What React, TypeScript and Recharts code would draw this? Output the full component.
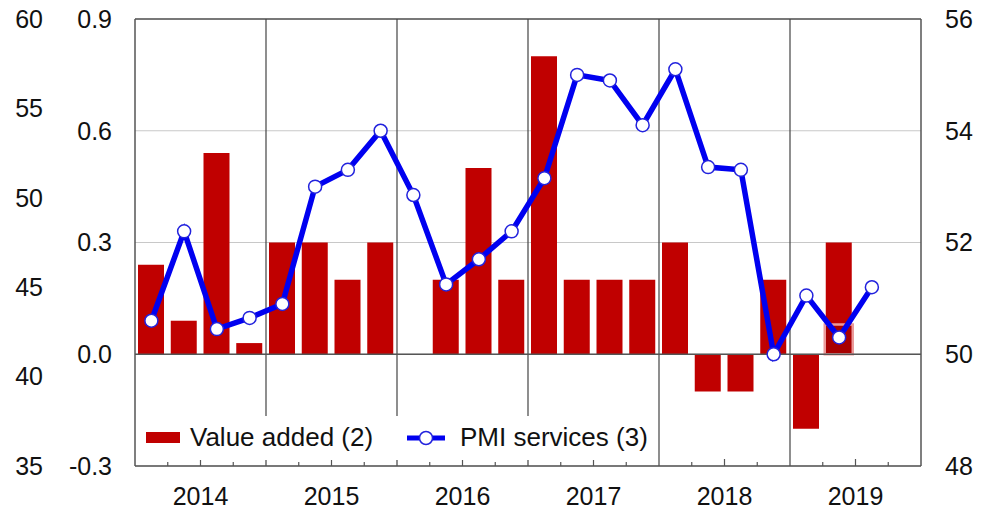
import React from "react";
import {
  ComposedChart,
  Bar,
  Line,
  XAxis,
  YAxis,
  CartesianGrid,
  ReferenceLine,
  Legend,
} from "recharts";

const years = ["2014", "2015", "2016", "2017", "2018", "2019"];
const quarters = years.flatMap((y) => ["Q1", "Q2", "Q3", "Q4"].map((q) => `${y}${q}`));

// value added, y/y % (left inner axis)
const valueAdded = [
  0.24, 0.09, 0.54, 0.03,
  0.3, 0.3, 0.2, 0.3,
  0, 0.2, 0.5, 0.2,
  0.8, 0.2, 0.2, 0.2,
  0.3, -0.1, -0.1, 0.2,
  -0.2, 0.3, null, null,
];

// lighter estimate box on 2019 Q2
const estimate = [
  null, null, null, null,
  null, null, null, null,
  null, null, null, null,
  null, null, null, null,
  null, null, null, null,
  null, 0.08, null, null,
];

// PMI services (right axis)
const pmi = [
  50.6, 52.2, 50.45, 50.65,
  50.9, 53.0, 53.3, 54.0,
  52.85, 51.25, 51.7, 52.2,
  53.15, 55.0, 54.9, 54.1,
  55.1, 53.35, 53.3, 50.0,
  51.05, 50.3, 51.2, null,
];

const vaTicks = [-0.3, 0, 0.3, 0.6, 0.9];
const pmiTicks = [48, 50, 52, 54, 56];
const outerTicks = [35, 40, 45, 50, 55, 60];
const boundaries = Array.from({ length: quarters.length + 1 }, (_, k) => k - 0.5);
const yearLines = [3.5, 7.5, 11.5, 15.5, 19.5];

const data = quarters.map((q, i) => ({
  q,
  i,
  va: valueAdded[i],
  est: estimate[i],
  pmi: pmi[i],
}));

const FONT = "'Liberation Sans', Arial, Helvetica, sans-serif";
const RED = "#c00000";
const BLUE = "#0000f0";
const FRAME = "#555";

// quarter boundary ticks (taller at mid-year) + year label centred on the year
const XTick = (props: any) => {
  const { x, y, payload } = props;
  const k = Math.round(payload.value + 0.5);
  const pos = k % 4;
  if (pos === 0) return <g />;
  const h = pos === 2 ? 7 : 4;
  return (
    <g>
      <line x1={x} x2={x} y1={y} y2={y - h} stroke={FRAME} strokeWidth={1.2} />
      {pos === 2 && (
        <text x={x} y={y + 39} textAnchor="middle" fontSize={25} fill="#111" fontFamily={FONT}>
          {years[Math.floor(k / 4)]}
        </text>
      )}
    </g>
  );
};

const LegendBox = () => (
  <svg width={519} height={44} style={{ display: "block", background: "#fff" }}>
    <rect x={10} y={16} width={34} height={11} fill={RED} />
    <text x={54} y={30} fontSize={26} fill="#111" fontFamily={FONT}>
      Value added (2)
    </text>
    <line x1={271} x2={309} y1={22} y2={22} stroke={BLUE} strokeWidth={5} />
    <circle cx={290} cy={22} r={6.5} fill="#fff" stroke="#2222dd" strokeWidth={1.5} />
    <text x={324} y={30} fontSize={26} fill="#111" fontFamily={FONT}>
      PMI services (3)
    </text>
  </svg>
);

export default function App() {
  return (
    <div style={{ position: "absolute", left: 0, top: 0, background: "#fff", fontFamily: FONT }}>
      <ComposedChart
        width={986}
        height={510}
        data={data}
        margin={{ top: 19, right: 0, bottom: 0, left: 0 }}
      >
        <CartesianGrid yAxisId="ya" xAxisId="xa" vertical={false} stroke="#c8c8c8" />
        <XAxis
          xAxisId="xa"
          dataKey="i"
          type="number"
          domain={[-0.5, 23.5]}
          ticks={boundaries}
          interval={0}
          height={44}
          tickSize={0}
          tickMargin={0}
          tickLine={false}
          axisLine={{ stroke: FRAME, strokeWidth: 1.5 }}
          tick={<XTick />}
        />
        <XAxis xAxisId="xb" dataKey="i" type="number" domain={[-0.5, 23.5]} hide />
        <YAxis
          yAxisId="ya"
          orientation="left"
          width={75}
          domain={[-0.3, 0.9]}
          ticks={vaTicks}
          interval={0}
          tickFormatter={(v: number) => v.toFixed(1)}
          tickSize={0}
          tickMargin={23}
          tickLine={false}
          axisLine={{ stroke: FRAME, strokeWidth: 1.5 }}
          tick={{ fontSize: 25, fill: "#111", fontFamily: FONT }}
        />
        <YAxis
          yAxisId="yb"
          orientation="left"
          width={60}
          type="number"
          domain={[35, 60]}
          ticks={outerTicks}
          interval={0}
          tickSize={0}
          tickMargin={17}
          tickLine={false}
          axisLine={false}
          allowDataOverflow
          tick={{ fontSize: 25, fill: "#111", fontFamily: FONT }}
        />
        <YAxis
          yAxisId="yr"
          orientation="right"
          width={65}
          domain={[48, 56]}
          ticks={pmiTicks}
          interval={0}
          tickSize={0}
          tickMargin={24}
          tickLine={false}
          axisLine={{ stroke: FRAME, strokeWidth: 1.5 }}
          tick={{ fontSize: 25, fill: "#111", fontFamily: FONT }}
        />
        <ReferenceLine yAxisId="ya" xAxisId="xa" y={0.9} stroke={FRAME} strokeWidth={1.5} />
        {yearLines.map((x) => (
          <ReferenceLine key={x} xAxisId="xa" yAxisId="ya" x={x} stroke="#444" strokeWidth={1.2} />
        ))}
        <Bar
          xAxisId="xa"
          yAxisId="ya"
          dataKey="va"
          name="Value added (2)"
          fill={RED}
          barSize={26}
          isAnimationActive={false}
        />
        <Bar
          xAxisId="xb"
          yAxisId="ya"
          dataKey="est"
          fill="#a80000"
          stroke="#eb9a9a"
          strokeWidth={2.5}
          barSize={28}
          legendType="none"
          isAnimationActive={false}
        />
        <ReferenceLine yAxisId="ya" xAxisId="xa" y={0} stroke={FRAME} strokeWidth={1.5} />
        <Line
          xAxisId="xa"
          yAxisId="yr"
          dataKey="pmi"
          name="PMI services (3)"
          stroke={BLUE}
          strokeWidth={5.5}
          dot={{ r: 6.5, fill: "#fff", stroke: "#2222dd", strokeWidth: 1.5 }}
          activeDot={false}
          isAnimationActive={false}
        />
        <Legend
          layout="horizontal"
          verticalAlign="middle"
          align="center"
          wrapperStyle={{ left: 136, top: 416, width: 519, height: 44 }}
          content={<LegendBox />}
        />
      </ComposedChart>
    </div>
  );
}
